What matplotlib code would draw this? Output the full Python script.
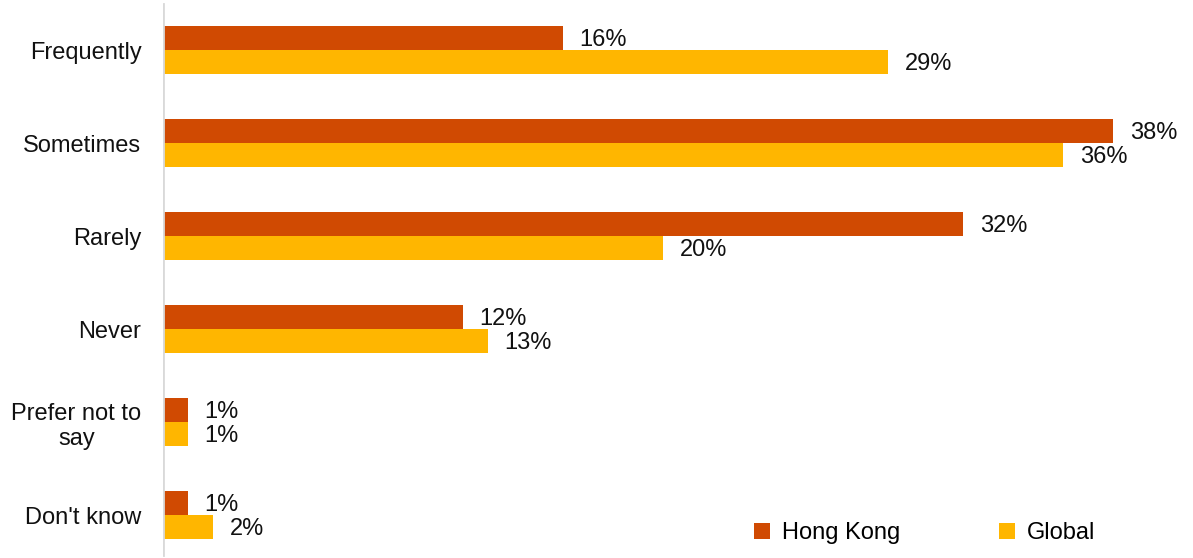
import matplotlib.pyplot as plt
import numpy as np

categories = ["Frequently", "Sometimes", "Rarely", "Never", "Prefer not to\nsay", "Don't know"]
hong_kong = [16, 38, 32, 12, 1, 1]
global_vals = [29, 36, 20, 13, 1, 2]

HK_COLOR = "#D04A02"
GLOBAL_COLOR = "#FFB600"
TEXT_COLOR = "#111111"

plt.rcParams["font.family"] = ["Liberation Sans", "DejaVu Sans"]

fig = plt.figure(figsize=(11.93, 5.58), dpi=100)
ax = fig.add_axes([163 / 1193, 0, 1 - 163 / 1193, 1])

y = np.arange(len(categories))
h = 0.263
ax.barh(y - h / 2, hong_kong, height=h, color=HK_COLOR, label="Hong Kong")
ax.barh(y + h / 2, global_vals, height=h, color=GLOBAL_COLOR, label="Global")

# value labels to the right of each bar
for pos, vals in ((y - h / 2, hong_kong), (y + h / 2, global_vals)):
    for yy, v in zip(pos, vals):
        ax.annotate(f"{v}%", (v, yy), xytext=(12, -1.5), textcoords="offset points",
                    va="center", ha="left", fontsize=17, color=TEXT_COLOR)

ax.set_xlim(0, 41.2)
ax.set_ylim(5.462, -0.538)
ax.set_yticks(y)
ax.set_yticklabels(categories, fontsize=17, color=TEXT_COLOR, multialignment="center")
ax.tick_params(axis="y", length=0, pad=15.5)
ax.set_xticks([])
for s in ax.spines.values():
    s.set_visible(False)
ax.axvline(0, ymin=0.005, ymax=0.992, color="#d9d9d9", lw=2)

ax.legend(loc="center left", bbox_to_anchor=(754 / 1193, 1 - 533 / 558),
          bbox_transform=fig.transFigure, ncol=2, frameon=False,
          fontsize=17, handlelength=0.67, handleheight=0.67,
          handletextpad=0.5, columnspacing=4.2, borderpad=0, borderaxespad=0)

fig.savefig("out.png", dpi=100)
